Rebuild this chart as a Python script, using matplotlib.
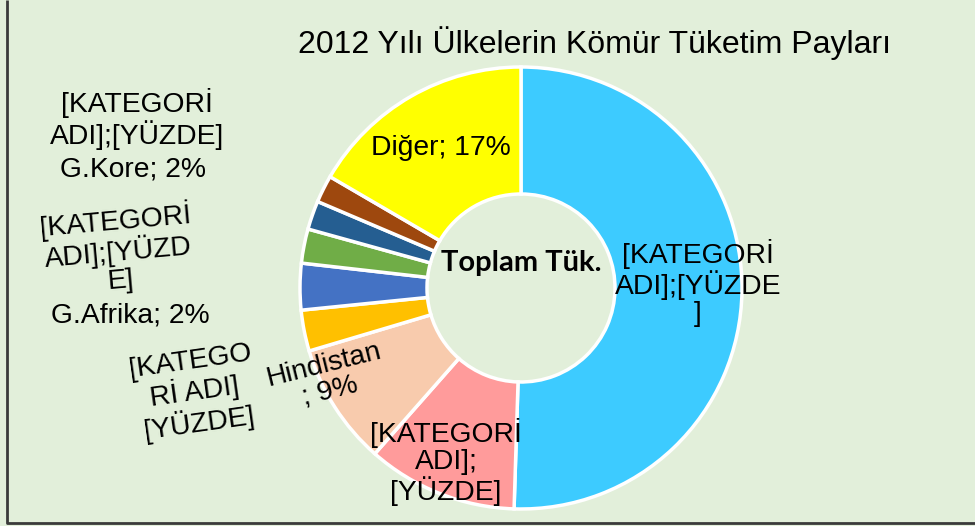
"""2012 Yılı Ülkelerin Kömür Tüketim Payları - halka grafik. Çıktı: out.png"""
import matplotlib
matplotlib.use("Agg")
import matplotlib.pyplot as plt

# Veri (dilimler saat yönünde, tepeden başlayarak)
ulkeler = ["Çin", "ABD", "Hindistan", "Japonya", "Rusya", "G.Afrika", "G.Kore", "Almanya", "Diğer"]
paylar = [50.5, 11.0, 8.9, 3.0, 3.4, 2.5, 2.1, 2.0, 16.6]
etiketler = ["[KATEGORİ\nADI];[YÜZDE\n]", "[KATEGORİ\nADI];\n[YÜZDE]", "Hindistan\n; 9%",
             "[KATEGO\nRİ ADI]\n[YÜZDE]", "G.Afrika; 2%", "[KATEGORİ\nADI];[YÜZD\nE]",
             "G.Kore; 2%", "[KATEGORİ\nADI];[YÜZDE]", "Diğer; 17%"]
renkler = ["#3DCBFF", "#FF9B9B", "#F8CBAD", "#FFC000", "#4472C4", "#70AD47",
           "#255E91", "#9E480E", "#FFFF00"]
baslik = "2012 Yılı Ülkelerin Kömür Tüketim Payları"
merkez_yazi = "Toplam Tük."

# etiket yerleşimi (piksel, üstten) ve dönüş açısı
etiket_yer = [(698, 283, 0), (446, 462, 0), (327, 378, 14), (195, 393, 8), (130, 316, 0),
              (118, 250, 5), (133, 170, 0), (137, 119, 0), (441, 148, 0)]

W, H = 975, 526
ARKA = "#E2EFDA"
plt.rcParams["font.family"] = ["Liberation Sans", "DejaVu Sans"]

fig = plt.figure(figsize=(W / 100, H / 100), dpi=100, facecolor=ARKA)
ax = fig.add_axes([0, 0, 1, 1])
ax.set_facecolor(ARKA)

cx, cy, R, r_ic = 521, H - 288, 221, 94
ax.pie(paylar, colors=renkler, startangle=90, counterclock=False, radius=R, center=(cx, cy),
       wedgeprops=dict(width=R - r_ic, edgecolor="white", linewidth=2.5))

for (x, y, rot), t in zip(etiket_yer, etiketler):
    ax.text(x, H - y, t, ha="center", va="center", fontsize=20.3, rotation=rot,
            linespacing=1.07, color="black", multialignment="center")

ax.text(cx, H - 271, merkez_yazi, ha="center", va="baseline", fontsize=21,
        fontweight="bold", family=["Lato", "DejaVu Sans"])
ax.text(594, H - 43, baslik, ha="center", va="center", fontsize=23)

# çerçeve (sol ve alt kenar)
ax.plot([7, 7, W], [H, H - 523, H - 523], color="#3A3A3A", lw=2, solid_capstyle="butt")

ax.set_xlim(0, W)
ax.set_ylim(0, H)
ax.set_aspect("equal")
ax.axis("off")
fig.savefig("out.png", dpi=100, facecolor=ARKA)
